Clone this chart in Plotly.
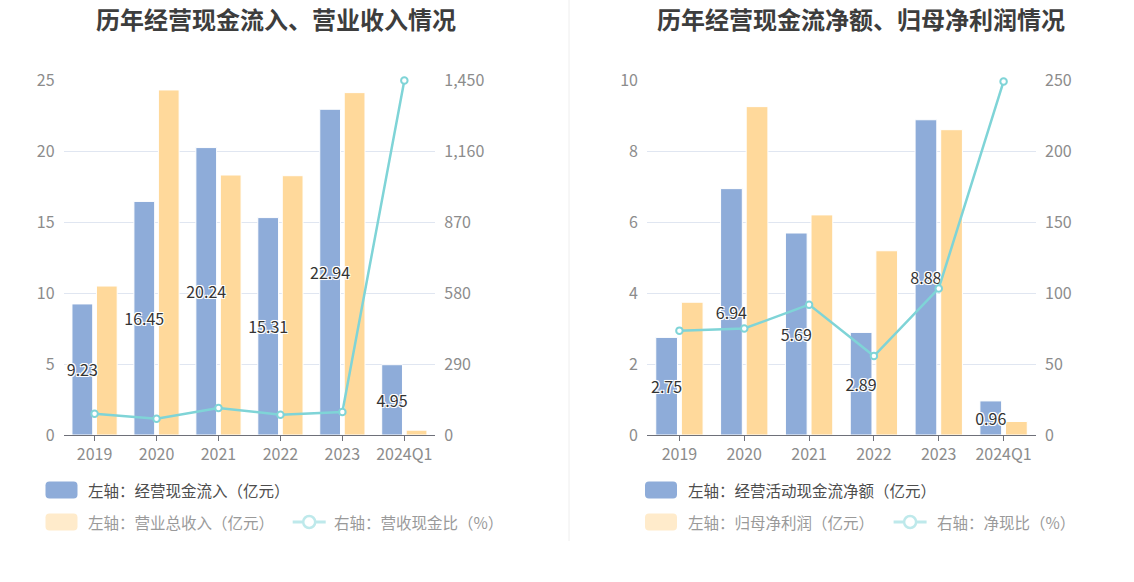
import plotly.graph_objects as go

W, H = 1134, 582

years = ["2019", "2020", "2021", "2022", "2023", "2024Q1"]

# left chart
cash_in = [9.23, 16.45, 20.24, 15.31, 22.94, 4.95]
revenue = [10.49, 24.30, 18.31, 18.26, 24.11, 0.34]
cash_rev_ratio = [87, 66, 110, 83, 94, 1448]
left_ticks = [0, 5, 10, 15, 20, 25]
right_ticks = [0, 290, 580, 870, 1160, 1450]

# right chart
net_cash = [2.75, 6.94, 5.69, 2.89, 8.88, 0.96]
net_profit = [3.74, 9.25, 6.20, 5.19, 8.60, 0.38]
net_ratio = [73.5, 75, 91.8, 55.6, 103.2, 249]
left_ticks2 = [0, 2, 4, 6, 8, 10]
right_ticks2 = [0, 50, 100, 150, 200, 250]

BLUE = "#8EACD9"
ORANGE = "#FFD99B"
TEAL = "#7FD4D7"
FONT = "Noto Sans CJK SC, sans-serif"
LABEL_GREY = "#8C8C8C"
GRID = "#E0E6F1"


def px(x):
    return x / W


def py(y):
    return 1 - y / H


halo = "-1px -1px 0 #fff, 1px -1px 0 #fff, -1px 1px 0 #fff, 1px 1px 0 #fff, 0 0 2px #fff"

fig = go.Figure()


def add_chart(xa, ya, ya2, blue_vals, orange_vals, line_vals):
    # orange first so the blue bar labels sit above it
    fig.add_trace(go.Bar(
        x=years, y=orange_vals, xaxis=xa, yaxis=ya,
        width=0.335, offset=0.03,
        marker=dict(color=ORANGE, line=dict(color="white", width=1)),
        showlegend=False))
    fig.add_trace(go.Bar(
        x=years, y=blue_vals, xaxis=xa, yaxis=ya,
        width=0.335, offset=-0.365,
        marker=dict(color=BLUE, line=dict(color="white", width=1)),
        text=["%.2f" % v for v in blue_vals],
        textposition="inside", insidetextanchor="middle",
        constraintext="none", textangle=0,
        textfont=dict(color="#333333", size=16, family=FONT, shadow=halo),
        showlegend=False))
    fig.add_trace(go.Scatter(
        x=years, y=line_vals, xaxis=xa, yaxis=ya2,
        mode="lines+markers",
        line=dict(color=TEAL, width=2.5),
        marker=dict(symbol="circle", size=6.5, color="white",
                    line=dict(color=TEAL, width=2)),
        showlegend=False, cliponaxis=False))


add_chart("x", "y", "y2", cash_in, revenue, cash_rev_ratio)
add_chart("x2", "y3", "y4", net_cash, net_profit, net_ratio)

tickfont = dict(family=FONT, size=16, color=LABEL_GREY)

xcommon = dict(type="category", showline=True, linecolor="#6E7079", linewidth=1,
               ticks="outside", ticklen=5, tickcolor="#6E7079",
               tickfont=tickfont, showgrid=False, zeroline=False, fixedrange=True)
ycommon = dict(showline=False, zeroline=False, tickfont=tickfont, ticks="",
               fixedrange=True, ticklabelstandoff=8)

fig.update_layout(
    width=W, height=H,
    margin=dict(l=0, r=0, t=0, b=0, autoexpand=False),
    paper_bgcolor="white", plot_bgcolor="white",
    barmode="overlay",
    font=dict(family=FONT),
    xaxis=dict(domain=[px(63.6), px(435.3)], anchor="y", **xcommon),
    yaxis=dict(domain=[py(435), py(80)], anchor="x", range=[0, 25],
               tickvals=left_ticks, showgrid=True, gridcolor=GRID, **ycommon),
    yaxis2=dict(overlaying="y", side="right", anchor="x", range=[0, 1450],
                tickvals=right_ticks, tickformat=",", showgrid=False, **ycommon),
    xaxis2=dict(domain=[px(647), px(1036)], anchor="y3", **xcommon),
    yaxis3=dict(domain=[py(435), py(80)], anchor="x2", range=[0, 10],
                tickvals=left_ticks2, showgrid=True, gridcolor=GRID, **ycommon),
    yaxis4=dict(overlaying="y3", side="right", anchor="x2", range=[0, 250],
                tickvals=right_ticks2, showgrid=False, **ycommon),
)

# titles
titles = [("历年经营现金流入、营业收入情况", 275.5), ("历年经营现金流净额、归母净利润情况", 861)]
for text, cx in titles:
    fig.add_annotation(text="<b>" + text + "</b>", x=px(cx), y=py(18),
                       xref="paper", yref="paper", showarrow=False,
                       xanchor="center", yanchor="middle",
                       font=dict(family=FONT, size=24, color="#3D3D3D"))

# divider
fig.add_shape(type="line", xref="paper", yref="paper",
              x0=px(569), x1=px(569), y0=py(0), y1=py(541),
              line=dict(color="#EEEEEE", width=1))


def legend_box(x, yc, color):
    x0, x1 = px(x), px(x + 32)
    y0, y1 = py(yc + 8.5), py(yc - 8.5)
    rx = 4 / W
    ry = 4 / H
    path = ("M %f,%f L %f,%f Q %f,%f %f,%f L %f,%f Q %f,%f %f,%f "
            "L %f,%f Q %f,%f %f,%f L %f,%f Q %f,%f %f,%f Z" % (
                x0 + rx, y0, x1 - rx, y0, x1, y0, x1, y0 + ry,
                x1, y1 - ry, x1, y1, x1 - rx, y1,
                x0 + rx, y1, x0, y1, x0, y1 - ry,
                x0, y0 + ry, x0, y0, x0 + rx, y0))
    fig.add_shape(type="path", path=path, xref="paper", yref="paper",
                  fillcolor=color, line=dict(width=0))


def legend_line(x, yc, color):
    fig.add_shape(type="line", xref="paper", yref="paper",
                  x0=px(x), x1=px(x + 33), y0=py(yc), y1=py(yc),
                  line=dict(color=color, width=3))
    fig.add_shape(type="circle", xref="paper", yref="paper",
                  x0=px(x + 16.5 - 6), x1=px(x + 16.5 + 6),
                  y0=py(yc + 6), y1=py(yc - 6),
                  fillcolor="white", line=dict(color=color, width=2.5))


def legend_text(x, yc, text, color):
    fig.add_annotation(text=text, x=px(x), y=py(yc), xref="paper", yref="paper",
                       showarrow=False, xanchor="left", yanchor="middle",
                       font=dict(family=FONT, size=15.5, color=color))


legends = [
    (45.5, 85.5, "左轴：经营现金流入（亿元）", "左轴：营业总收入（亿元）",
     292.7, 331.6, "右轴：营收现金比（%）"),
    (645, 685.6, "左轴：经营活动现金流净额（亿元）", "左轴：归母净利润（亿元）",
     893.6, 934.7, "右轴：净现比（%）"),
]
for bx, tx, t1, t2, lx, ltx, t3 in legends:
    legend_box(bx, 490, BLUE)
    legend_text(tx, 490, t1, "#4D4D4D")
    legend_box(bx, 522, "#FFEBCB")
    legend_text(tx, 522, t2, "#9A9A9A")
    legend_line(lx, 522, "#BEE9EB")
    legend_text(ltx, 522, t3, "#9A9A9A")

# page has a default 8px body margin; drop it so the figure sits at the corner
fig.write_html("out.html", config={"displayModeBar": False},
               post_script="document.body.style.margin='0';")
